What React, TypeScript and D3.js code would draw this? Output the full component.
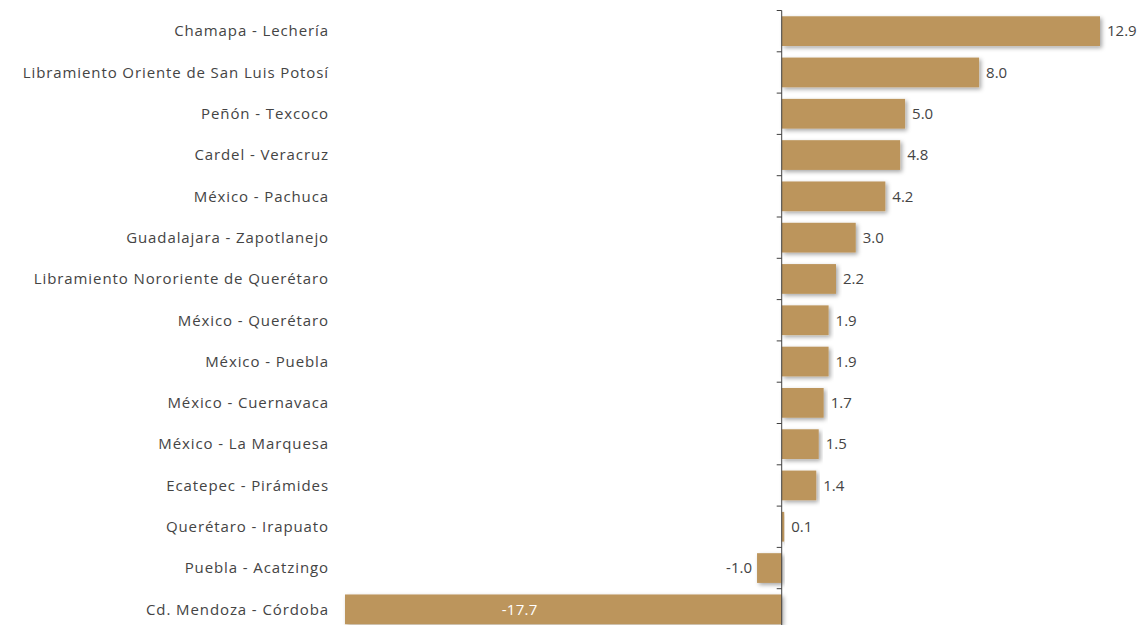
import React from "react";
import * as d3 from "d3";

const categories = [
  "Chamapa - Lechería",
  "Libramiento Oriente de San Luis Potosí",
  "Peñón - Texcoco",
  "Cardel - Veracruz",
  "México - Pachuca",
  "Guadalajara - Zapotlanejo",
  "Libramiento Nororiente de Querétaro",
  "México - Querétaro",
  "México - Puebla",
  "México - Cuernavaca",
  "México - La Marquesa",
  "Ecatepec - Pirámides",
  "Querétaro - Irapuato",
  "Puebla - Acatzingo",
  "Cd. Mendoza - Córdoba",
];
const values = [12.9, 8.0, 5.0, 4.8, 4.2, 3.0, 2.2, 1.9, 1.9, 1.7, 1.5, 1.4, 0.1, -1.0, -17.7];

const W = 1139;
const H = 625;
const FONT = "'Open Sans', sans-serif";
const BAR = "#bc955c";
const fmt = (v: number) => v.toFixed(1);

export default function App() {
  const x = d3.scaleLinear().domain([-17.7, 12.9]).range([345, 1100]);
  const y = d3.scaleBand<string>().domain(categories).range([10.5, 10.5 + 41.3 * 15]).paddingInner(0.28).paddingOuter(0.14);
  const step = y.step();
  const x0 = x(0);
  const top = y.range()[0];
  return (
    <div style={{ position: "fixed", left: 0, top: 0 }}>
      <svg width={W} height={H} style={{ display: "block", background: "#fff" }}>
        <defs>
          <filter id="sh" x="-10%" y="-30%" width="120%" height="170%">
            <feDropShadow dx="2" dy="2" stdDeviation="2" floodColor="#000" floodOpacity="0.35" />
          </filter>
        </defs>
        {categories.map((c, i) => {
          const v = values[i];
          const bx = Math.min(x(v), x0);
          const bw = Math.abs(x(v) - x0);
          const by = y(c)!;
          const bh = y.bandwidth();
          const cy = by + bh / 2;
          const inside = v < -5;
          return (
            <g key={c}>
              <rect x={bx} y={by} width={bw} height={bh} fill={BAR} filter="url(#sh)" />
              <text x={329} y={cy} dy="0.35em" textAnchor="end" fontFamily={FONT} fontSize={15} letterSpacing={0.9} fill="#444">
                {c}
              </text>
              {inside ? (
                <text x={x(v * 0.6)} y={cy} dy="0.35em" textAnchor="middle" fontFamily={FONT} fontSize={15} letterSpacing={0.3} fill="#fff">
                  {fmt(v)}
                </text>
              ) : (
                <text
                  x={v >= 0 ? x(v) + 7 : x(v) - 5}
                  y={cy}
                  dy="0.35em"
                  textAnchor={v >= 0 ? "start" : "end"}
                  fontFamily={FONT}
                  fontSize={15}
                  fill="#444"
                >
                  {fmt(v)}
                </text>
              )}
            </g>
          );
        })}
        <line x1={x0} x2={x0} y1={top} y2={H} stroke="#404040" strokeWidth={1} />
        {d3.range(categories.length + 1).map((i) => (
          <line key={i} x1={x0 - 5} x2={x0} y1={top + i * step} y2={top + i * step} stroke="#404040" strokeWidth={1} />
        ))}
      </svg>
    </div>
  );
}
